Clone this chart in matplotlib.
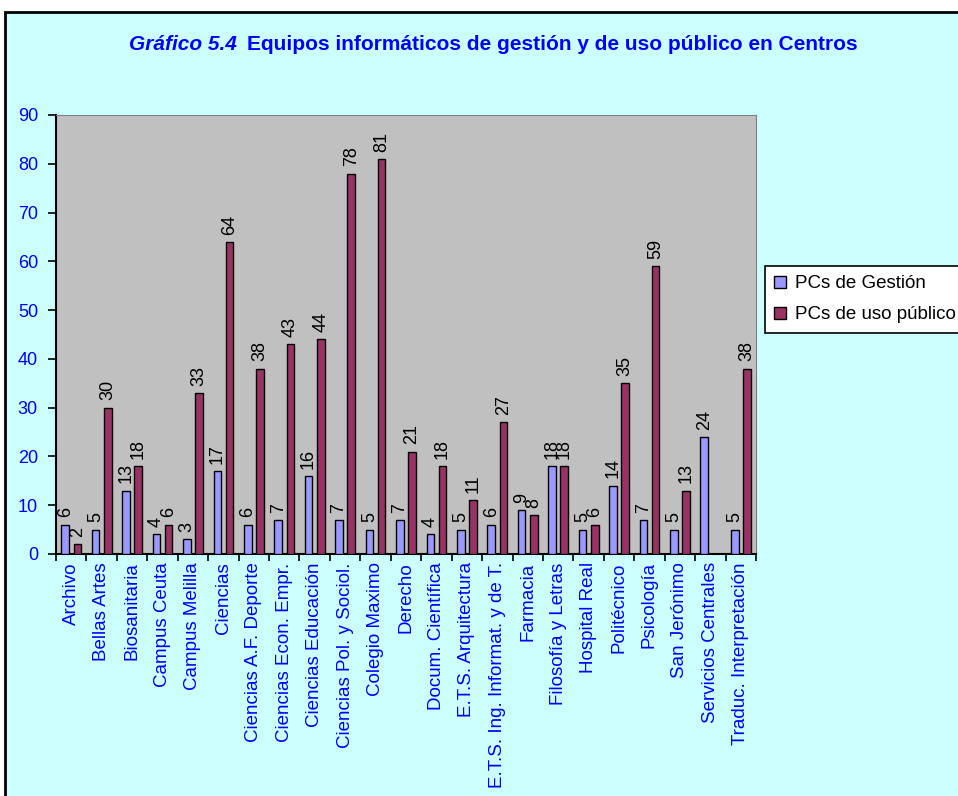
import numpy as np
import matplotlib.pyplot as plt
import matplotlib.patches as mpl_patches

plt.rcParams['font.family'] = ['Liberation Sans', 'DejaVu Sans']

centros = [
    'Archivo', 'Bellas Artes', 'Biosanitaria', 'Campus Ceuta', 'Campus Melilla',
    'Ciencias', 'Ciencias A.F. Deporte', 'Ciencias Econ. Empr.', 'Ciencias Educación',
    'Ciencias Pol. y Sociol.', 'Colegio Maximo', 'Derecho', 'Docum. Científica',
    'E.T.S. Arquitectura', 'E.T.S. Ing. Informat. y de T.', 'Farmacia',
    'Filosofía y Letras', 'Hospital Real', 'Politécnico', 'Psicología',
    'San Jerónimo', 'Servicios Centrales', 'Traduc. Interpretación',
]
pcs_gestion = [6, 5, 13, 4, 3, 17, 6, 7, 16, 7, 5, 7, 4, 5, 6, 9, 18, 5, 14, 7, 5, 24, 5]
pcs_publico = [2, 30, 18, 6, 33, 64, 38, 43, 44, 78, 81, 21, 18, 11, 27, 8, 18, 6, 35, 59, 13, np.nan, 38]
series_names = ['PCs de Gestión', 'PCs de uso público']

BG = '#CCFFFF'
BLUE = '#0000FF'
BAR_STYLE = {'width': 0.25, 'edgecolor': 'black', 'linewidth': 1.0, 'zorder': 3}
LABEL_STYLE = {'rotation': 90, 'ha': 'center', 'va': 'bottom', 'fontsize': 13, 'color': 'black'}

W, H = 958, 796
fig = plt.figure(figsize=(W / 100, H / 100), dpi=100)
fig.patch.set_facecolor('white')

# outer chart frame (cyan area with black border)
frame = mpl_patches.Rectangle((5 / W, -0.01), 1.0, 1 - 12 / H + 0.01,
                              transform=fig.transFigure, facecolor=BG,
                              edgecolor='black', linewidth=2, zorder=-5)
fig.patches.append(frame)

ax = fig.add_axes([56 / W, 1 - 554 / H, 700 / W, (554 - 115) / H])
ax.set_facecolor('#C0C0C0')

x = np.arange(len(centros))
b1 = ax.bar(x - 0.2, pcs_gestion, color='#9999FF', label=series_names[0], **BAR_STYLE)
b2 = ax.bar(x + 0.2, pcs_publico, color='#993366', label=series_names[1], **BAR_STYLE)

for xi, v in zip(x, pcs_gestion):
    ax.text(xi - 0.2, v + 1.5, f'{v:g}', **LABEL_STYLE)
for xi, v in zip(x, pcs_publico):
    if not np.isnan(v):
        ax.text(xi + 0.2, v + 1.5, f'{v:g}', **LABEL_STYLE)

ax.set_xlim(-0.5, len(centros) - 0.5)
ax.set_ylim(0, 90)
ax.set_yticks(np.arange(0, 91, 10))
ax.tick_params(axis='y', colors='black', labelcolor=BLUE, labelsize=13,
               direction='out', length=6, width=1.2, pad=7)

ax.set_xticks(x)
ax.set_xticklabels(centros, rotation=90, color=BLUE, fontsize=13.5)
ax.tick_params(axis='x', which='major', length=0, pad=6)
ax.set_xticks(np.arange(-0.5, len(centros), 1), minor=True)
ax.tick_params(axis='x', which='minor', direction='out', length=5, width=1.2, color='black')

for side in ('top', 'right'):
    ax.spines[side].set_color('#808080')
for side in ('left', 'bottom'):
    ax.spines[side].set_color('black')
    ax.spines[side].set_linewidth(1.5)

fig.text(129 / W, 1 - 45 / H, 'Gráfico 5.4', color=BLUE, fontsize=15,
         fontweight='bold', style='italic', ha='left', va='center')
fig.text(247 / W, 1 - 45 / H, 'Equipos informáticos de gestión y de uso público en Centros',
         color=BLUE, fontsize=15, fontweight='bold', ha='left', va='center')

leg = fig.legend(handles=[b1, b2], loc='upper left', bbox_to_anchor=(765 / W, 1 - 266 / H),
                 frameon=True, fontsize=13.5, fancybox=False, edgecolor='black',
                 facecolor='white', framealpha=1,
                 handlelength=0.6, handleheight=0.6, handletextpad=0.5,
                 borderpad=0.5, labelspacing=0.75, borderaxespad=0)
leg.get_frame().set_linewidth(1.2)

fig.savefig('out.png', dpi=100, facecolor=fig.get_facecolor())
